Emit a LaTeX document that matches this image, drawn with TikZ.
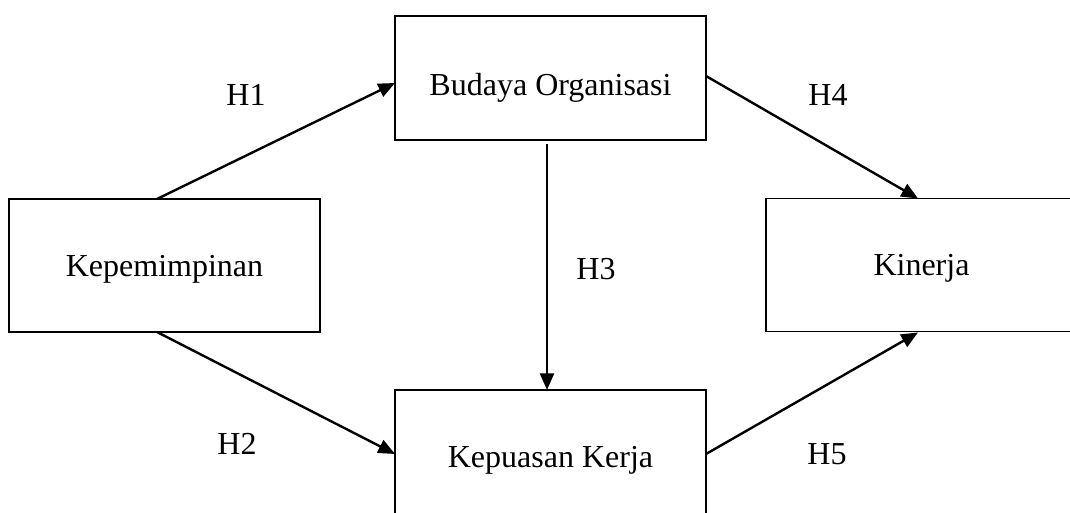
\documentclass[tikz,border=0pt]{standalone}
\usepackage{fontspec}
\setmainfont{Liberation Serif}
\usetikzlibrary{arrows.meta,calc}
\tikzset{
  boxnode/.style={draw, line width=1.2pt, rectangle, outer sep=0pt, inner sep=0pt,
    minimum width=233.25pt, minimum height=99.75pt, text height=21pt, text depth=5pt,
    font=\fontsize{24pt}{29pt}\selectfont},
  hlabel/.style={anchor=base, inner sep=0pt, font=\fontsize{24pt}{29pt}\selectfont},
  conn/.style={line width=1.8pt, -{Triangle[length=12.5pt,width=10.5pt]}}
}
\begin{document}
\begin{tikzpicture}[x=0.75pt,y=-0.75pt]
\useasboundingbox (0,0) rectangle (1070,513);
\clip (0,0) rectangle (1070,513);
\fill[white] (0,0) rectangle (1070,513);
% boxes
\node[boxnode] (kep) at (164.5,265.5) {Kepemimpinan};
\node[boxnode, minimum height=93pt, text height=32pt] (bud) at (550.5,78) {Budaya Organisasi};
\node[boxnode] (kin) at (921.5,265) {Kinerja};
\node[boxnode] (kup) at (550.5,456.5) {Kepuasan Kerja};
% connectors
\draw[conn] ($(kep.north)+(-7.5,0)$) -- ($(bud.west)+(0,5)$);
\draw[conn] ($(kep.south)+(-7.5,0)$) -- ($(kup.west)+(0,-2.5)$);
\draw[conn] ($(bud.south)+(-3.5,4)$) -- ($(kup.north)+(-3.5,0)$);
\draw[conn] ($(bud.east)+(0,-2)$) -- ($(kin.north)+(-3.5,0)$);
\draw[conn] ($(kup.east)+(0,-2.5)$) -- ($(kin.south)+(-3.5,1)$);
% labels
\node[hlabel] (h1) at (246,106) {H1};
\node[hlabel] (h2) at (237,454) {H2};
\node[hlabel] (h3) at (596,279) {H3};
\node[hlabel] (h4) at (828,106) {H4};
\node[hlabel] (h5) at (827,464) {H5};
\end{tikzpicture}
\end{document}
